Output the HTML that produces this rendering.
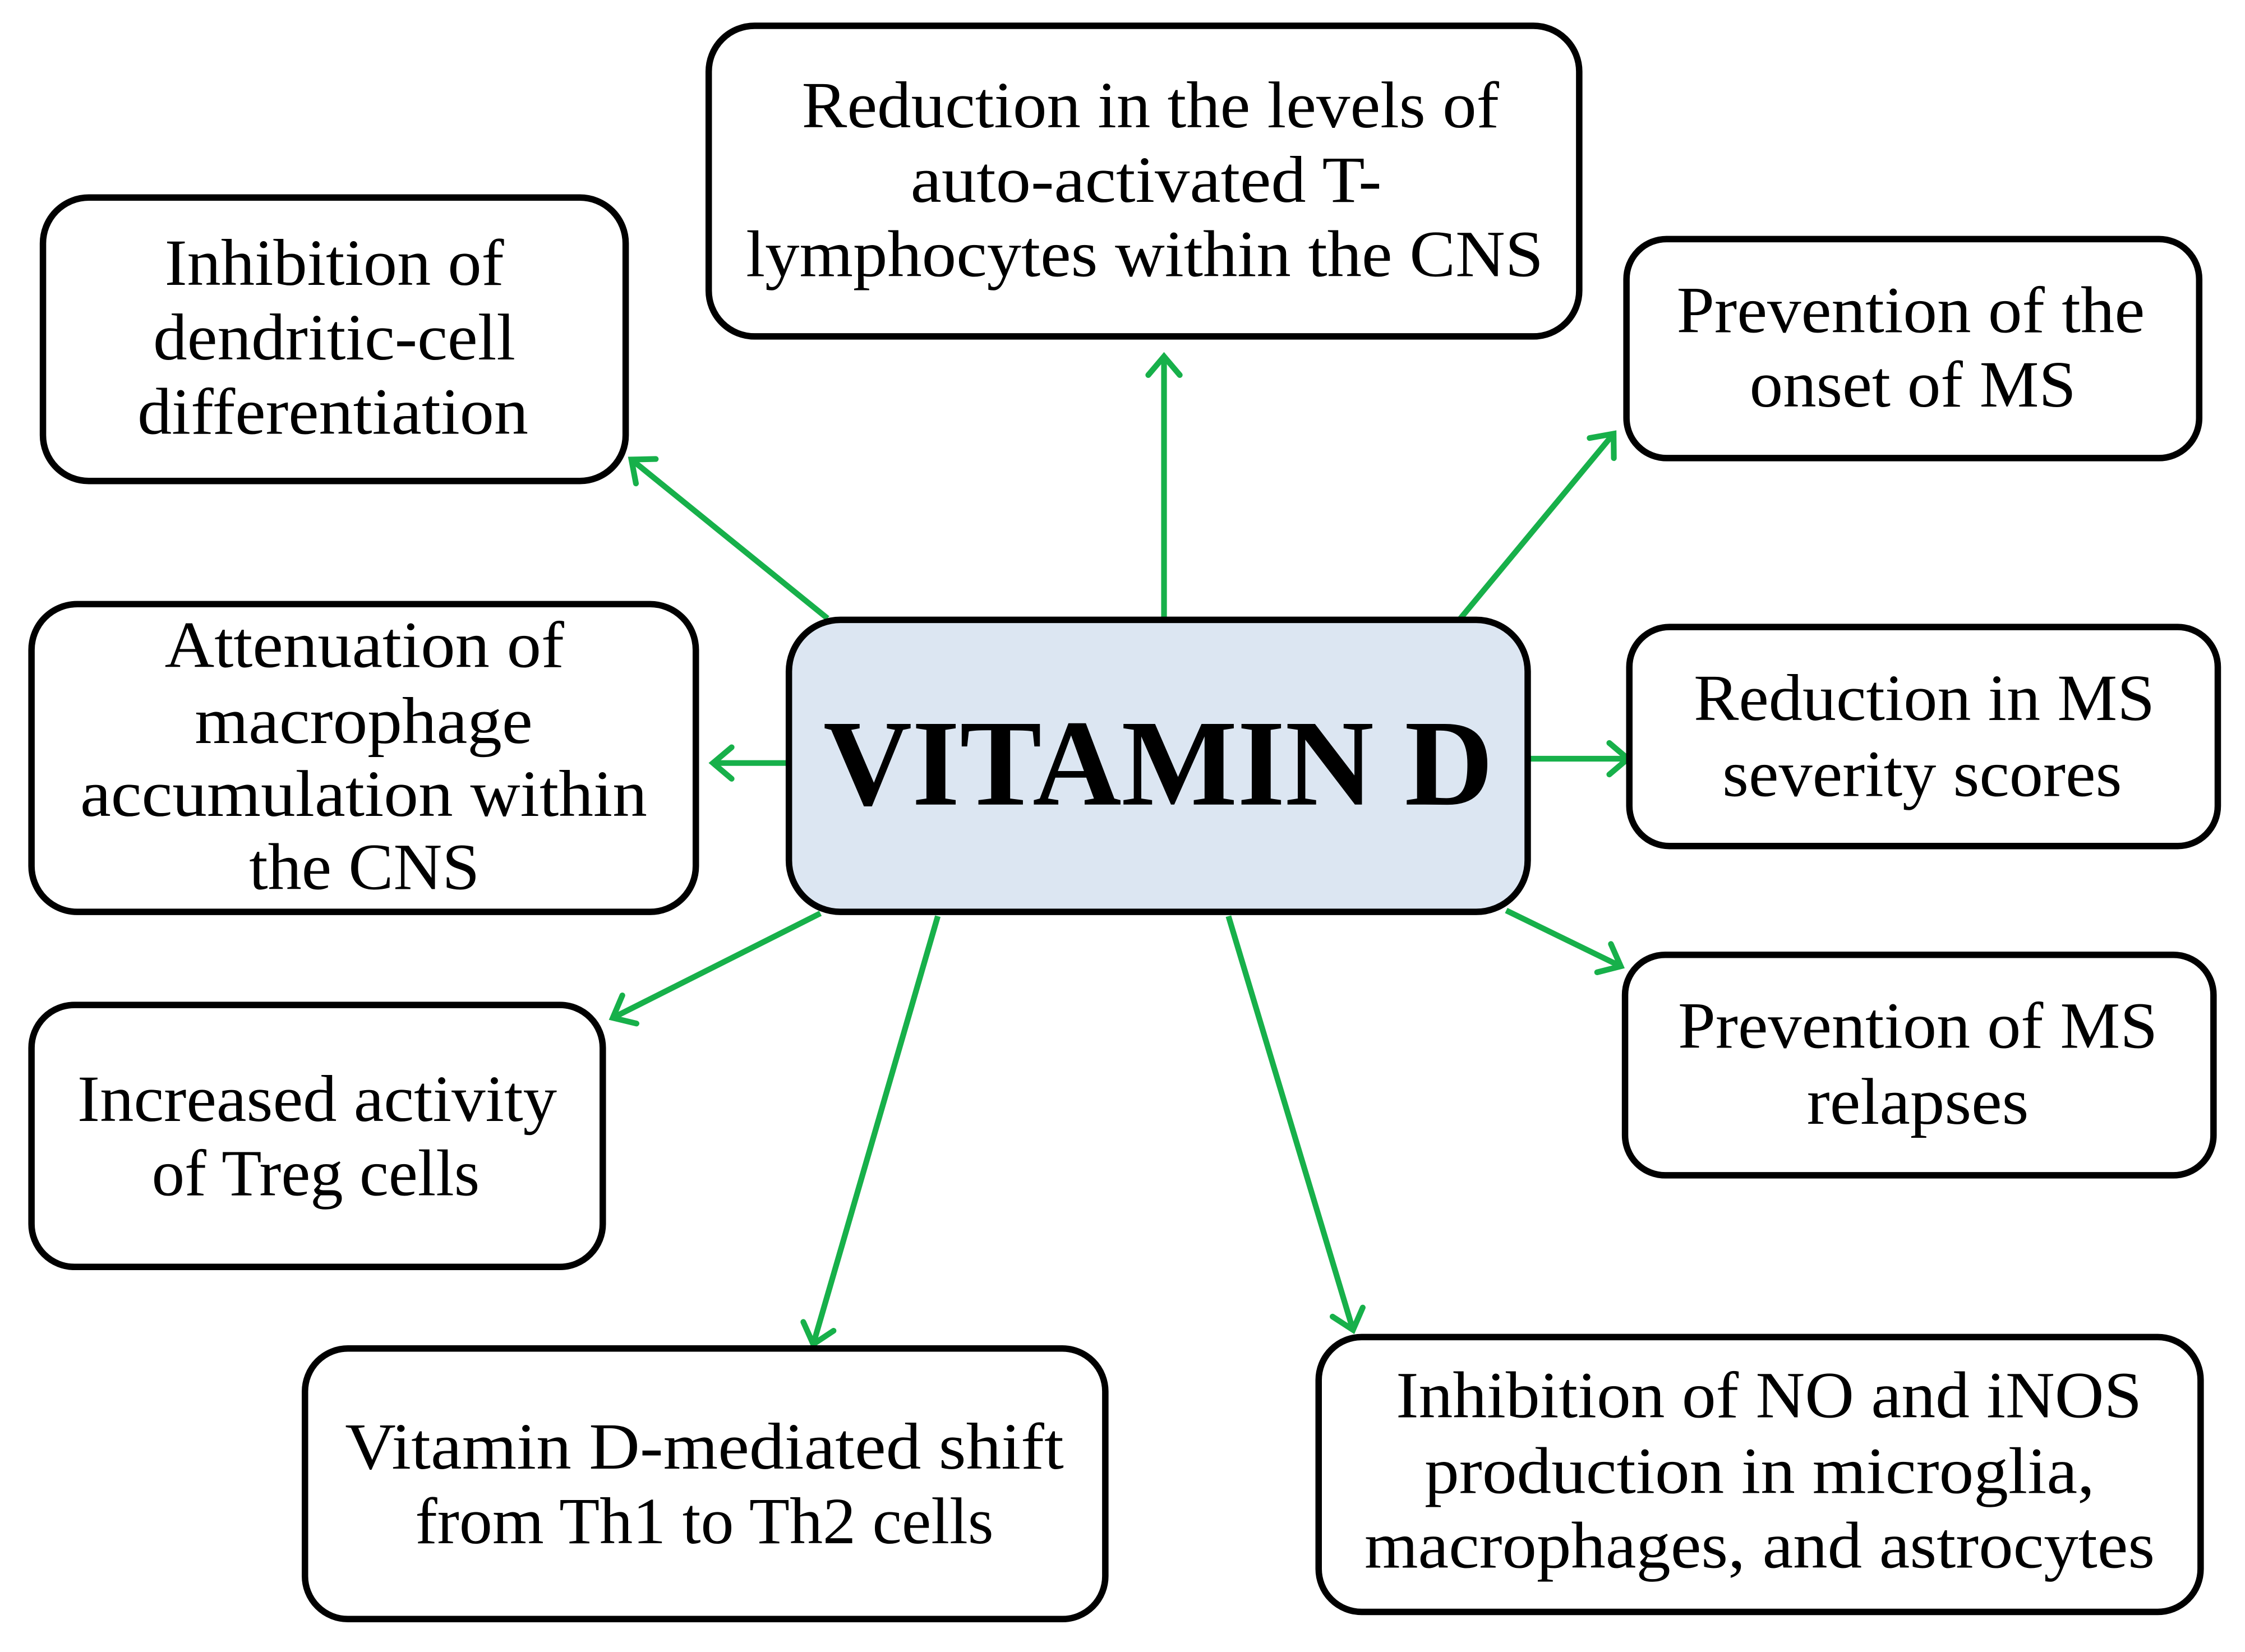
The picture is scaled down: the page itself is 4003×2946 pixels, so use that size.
<!DOCTYPE html>
<html><head><meta charset="utf-8"><style>
html,body{margin:0;padding:0;background:#fff;}
svg{display:block;}
text{font-family:"Liberation Serif",serif;fill:#000;}
</style></head><body>
<svg width="4003" height="2946" viewBox="0 0 1568 1154" preserveAspectRatio="none" xmlns="http://www.w3.org/2000/svg">
<defs>
<marker id="ah" markerUnits="userSpaceOnUse" markerWidth="40" markerHeight="40" refX="20" refY="20" orient="auto" viewBox="0 0 40 40">
<polyline points="7,9 20,20 7,31" fill="none" stroke="#17b04a" stroke-width="4" stroke-linecap="round" stroke-linejoin="miter"/>
</marker>
</defs>
<g stroke="#17b04a" stroke-width="4" fill="none" marker-end="url(#ah)">
<line x1="813" y1="432" x2="813" y2="249"/>
<line x1="578" y1="432" x2="441" y2="321"/>
<line x1="1020" y1="432" x2="1127" y2="303"/>
<line x1="550" y1="533" x2="498" y2="533"/>
<line x1="1067" y1="530" x2="1137" y2="530"/>
<line x1="1052" y1="636" x2="1132" y2="675"/>
<line x1="573" y1="638" x2="428" y2="711"/>
<line x1="655" y1="640" x2="568" y2="939"/>
<line x1="858" y1="640" x2="945" y2="929"/>
</g>
<g stroke="#000" stroke-width="4.5" fill="#fff">
<rect x="495" y="18" width="608" height="217" rx="32"/>
<rect x="30" y="138" width="407" height="198" rx="32"/>
<rect x="1136" y="167" width="400" height="153" rx="28"/>
<rect x="22" y="422" width="464" height="215" rx="32"/>
<rect x="551" y="433" width="516" height="204" rx="36" fill="#dce6f2"/>
<rect x="1138" y="438" width="411" height="153" rx="28"/>
<rect x="1135" y="667" width="411" height="154" rx="28"/>
<rect x="22" y="702" width="399" height="183" rx="30"/>
<rect x="213" y="942" width="559" height="189" rx="30"/>
<rect x="921" y="934" width="616" height="192" rx="30"/>
</g>
<g font-size="46" lengthAdjust="spacingAndGlyphs">
<text x="560" y="89" textLength="487" lengthAdjust="spacingAndGlyphs">Reduction in the levels of</text>
<text x="636" y="141" textLength="329" lengthAdjust="spacingAndGlyphs">auto-activated T-</text>
<text x="521" y="193" textLength="557" lengthAdjust="spacingAndGlyphs">lymphocytes within the CNS</text>

<text x="115" y="199" textLength="237" lengthAdjust="spacingAndGlyphs">Inhibition of</text>
<text x="107" y="251" textLength="253" lengthAdjust="spacingAndGlyphs">dendritic-cell</text>
<text x="96" y="303" textLength="273" lengthAdjust="spacingAndGlyphs">differentiation</text>

<text x="1171" y="232" textLength="327" lengthAdjust="spacingAndGlyphs">Prevention of the</text>
<text x="1222" y="284" textLength="228" lengthAdjust="spacingAndGlyphs">onset of MS</text>

<text x="115" y="466" textLength="279" lengthAdjust="spacingAndGlyphs">Attenuation of</text>
<text x="136" y="519" textLength="236" lengthAdjust="spacingAndGlyphs">macrophage</text>
<text x="56" y="570" textLength="396" lengthAdjust="spacingAndGlyphs">accumulation within</text>
<text x="174" y="621" textLength="161" lengthAdjust="spacingAndGlyphs">the CNS</text>

<text x="1183" y="503" textLength="322" lengthAdjust="spacingAndGlyphs">Reduction in MS</text>
<text x="1203" y="556" textLength="279" lengthAdjust="spacingAndGlyphs">severity scores</text>

<text x="1172" y="732" textLength="335" lengthAdjust="spacingAndGlyphs">Prevention of MS</text>
<text x="1262" y="785" textLength="155" lengthAdjust="spacingAndGlyphs">relapses</text>

<text x="54" y="783" textLength="335" lengthAdjust="spacingAndGlyphs">Increased activity</text>
<text x="106" y="835" textLength="229" lengthAdjust="spacingAndGlyphs">of Treg cells</text>

<text x="241" y="1026" textLength="502" lengthAdjust="spacingAndGlyphs">Vitamin D-mediated  shift</text>
<text x="290" y="1078" textLength="404" lengthAdjust="spacingAndGlyphs">from Th1 to Th2 cells</text>

<text x="975" y="990" textLength="521" lengthAdjust="spacingAndGlyphs">Inhibition of NO and iNOS</text>
<text x="995" y="1043" textLength="468" lengthAdjust="spacingAndGlyphs">production in microglia,</text>
<text x="953" y="1095" textLength="552" lengthAdjust="spacingAndGlyphs">macrophages, and astrocytes</text>
</g>
<text x="575" y="562" font-size="86" font-weight="bold" textLength="468" lengthAdjust="spacingAndGlyphs">VITAMIN  D</text>
</svg>
</body></html>
